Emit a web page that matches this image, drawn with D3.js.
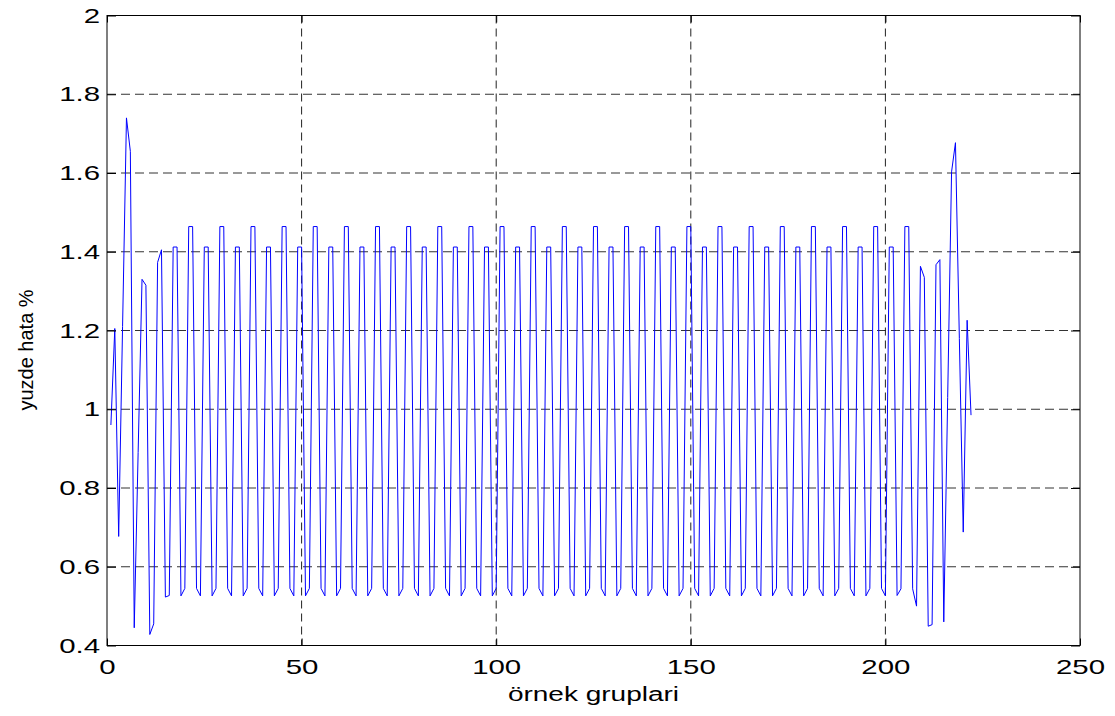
<!DOCTYPE html>
<html lang="tr">
  <head>
    <meta charset="utf-8">
    <title>yuzde hata</title>
    <script src="https://d3js.org/d3.v7.js"></script>
    <style>
      body { margin: 0; background: white; }
      text { font-family: "Liberation Sans", Arial, sans-serif; fill: black; }
    </style>
  </head>
  <body>
    <script type="text/javascript">

      // sample errors (%), sample index starts at 1
      var hata = [
        0.96, 1.205, 0.677, 1.21, 1.74, 1.655, 0.445, 0.89,
        1.33, 1.315, 0.428, 0.455, 1.373, 1.405, 0.523, 0.527,
        1.412, 1.412, 0.526, 0.545, 1.464, 1.464, 0.545, 0.526,
        1.412, 1.412, 0.526, 0.545, 1.464, 1.464, 0.545, 0.526,
        1.412, 1.412, 0.526, 0.545, 1.464, 1.464, 0.545, 0.526,
        1.412, 1.412, 0.526, 0.545, 1.464, 1.464, 0.545, 0.526,
        1.412, 1.412, 0.526, 0.545, 1.464, 1.464, 0.545, 0.526,
        1.412, 1.412, 0.526, 0.545, 1.464, 1.464, 0.545, 0.526,
        1.412, 1.412, 0.526, 0.545, 1.464, 1.464, 0.545, 0.526,
        1.412, 1.412, 0.526, 0.545, 1.464, 1.464, 0.545, 0.526,
        1.412, 1.412, 0.526, 0.545, 1.464, 1.464, 0.545, 0.526,
        1.412, 1.412, 0.526, 0.545, 1.464, 1.464, 0.545, 0.526,
        1.412, 1.412, 0.526, 0.545, 1.464, 1.464, 0.545, 0.526,
        1.412, 1.412, 0.526, 0.545, 1.464, 1.464, 0.545, 0.526,
        1.412, 1.412, 0.526, 0.545, 1.464, 1.464, 0.545, 0.526,
        1.412, 1.412, 0.526, 0.545, 1.464, 1.464, 0.545, 0.526,
        1.412, 1.412, 0.526, 0.545, 1.464, 1.464, 0.545, 0.526,
        1.412, 1.412, 0.526, 0.545, 1.464, 1.464, 0.545, 0.526,
        1.412, 1.412, 0.526, 0.545, 1.464, 1.464, 0.545, 0.526,
        1.412, 1.412, 0.526, 0.545, 1.464, 1.464, 0.545, 0.526,
        1.412, 1.412, 0.526, 0.545, 1.464, 1.464, 0.545, 0.526,
        1.412, 1.412, 0.526, 0.545, 1.464, 1.464, 0.545, 0.526,
        1.412, 1.412, 0.526, 0.545, 1.464, 1.464, 0.545, 0.526,
        1.412, 1.412, 0.526, 0.545, 1.464, 1.464, 0.545, 0.526,
        1.412, 1.412, 0.526, 0.545, 1.464, 1.464, 0.545, 0.526,
        1.412, 1.412, 0.527, 0.544, 1.464, 1.464, 0.544, 0.500,
        1.363, 1.335, 0.449, 0.453, 1.367, 1.38, 0.46, 1.03,
        1.603, 1.677, 1.18, 0.688, 1.226, 0.985
      ];

      var xTicks = [0, 50, 100, 150, 200, 250];
      var yTicks = [0.4, 0.6, 0.8, 1, 1.2, 1.4, 1.6, 1.8, 2];
      var xLabel = "örnek gruplari";
      var yLabel = "yuzde hata %";

      var w = 1115;
      var h = 716;
      var margin = {top: 15.5, right: 35, bottom: 70.5, left: 107};
      var innerWidth = w - margin.left - margin.right;
      var innerHeight = h - margin.top - margin.bottom;
      var stretch = 1.4;   // the picture's text is wide

      var xScale = d3.scaleLinear()
        .domain([0, 250])
        .range([0, innerWidth]);
      var yScale = d3.scaleLinear()
        .domain([0.4, 2])
        .range([innerHeight, 0]);

      var svg = d3.select("body")
        .append("svg")
          .attr("width", w)
          .attr("height", h);

      svg.append("rect")
        .attr("width", w)
        .attr("height", h)
        .attr("fill", "white");

      var chart = svg.append("g")
        .attr("transform", `translate(${margin.left}, ${margin.top})`);

      // grid
      chart.selectAll(".hgrid")
        .data(yTicks.slice(1, -1)).enter().append("line")
        .attr("class", "hgrid")
        .attr("x1", 0).attr("x2", innerWidth)
        .attr("y1", d => yScale(d)).attr("y2", d => yScale(d))
        .attr("stroke", "#333")
        .attr("stroke-dasharray", "9,5");
      chart.selectAll(".vgrid")
        .data(xTicks.slice(1, -1)).enter().append("line")
        .attr("class", "vgrid")
        .attr("y1", 0).attr("y2", innerHeight)
        .attr("x1", d => xScale(d)).attr("x2", d => xScale(d))
        .attr("stroke", "#222")
        .attr("stroke-dasharray", "8,5");

      // the series
      var line = d3.line()
        .x((d, i) => xScale(i + 1))
        .y(d => yScale(d));
      chart.append("path")
        .datum(hata)
        .attr("d", line)
        .attr("fill", "none")
        .attr("stroke", "#0000ff")
        .attr("stroke-width", 1);

      // axes, ticks inward
      var xAxis = d3.axisBottom(xScale).tickValues(xTicks).tickSize(-7).tickPadding(14).tickFormat(d3.format("d"));
      var yAxis = d3.axisLeft(yScale).tickValues(yTicks).tickSize(-9).tickPadding(7).tickFormat(d => d3.format("")(d));
      var xTop = d3.axisTop(xScale).tickValues(xTicks).tickSize(-7).tickFormat("");
      var yRight = d3.axisRight(yScale).tickValues(yTicks).tickSize(-9).tickFormat("");

      var gx = chart.append("g").attr("transform", `translate(0, ${innerHeight})`).call(xAxis);
      var gy = chart.append("g").call(yAxis);
      chart.append("g").call(xTop);
      chart.append("g").attr("transform", `translate(${innerWidth}, 0)`).call(yRight);

      chart.selectAll(".domain").remove();
      chart.selectAll(".tick line").attr("stroke", "black");

      chart.append("rect")
        .attr("width", innerWidth)
        .attr("height", innerHeight)
        .attr("fill", "none")
        .attr("stroke", "black");

      // widen glyphs without transforms
      function widen(sel) {
        sel.each(function() {
          var len = this.getComputedTextLength();
          d3.select(this)
            .attr("textLength", len * stretch)
            .attr("lengthAdjust", "spacingAndGlyphs");
        });
      }

      gx.selectAll("text").attr("font-size", 21).call(widen);
      gy.selectAll("text").attr("font-size", 21).call(widen);

      svg.append("text")
        .attr("x", margin.left + innerWidth / 2)
        .attr("y", 701)
        .attr("text-anchor", "middle")
        .attr("font-size", 20)
        .text(xLabel)
        .call(widen);

      svg.append("text")
        .attr("transform", `translate(33, 350) rotate(-90)`)
        .attr("text-anchor", "middle")
        .attr("font-size", 20)
        .text(yLabel);
    </script>
  </body>
</html>
